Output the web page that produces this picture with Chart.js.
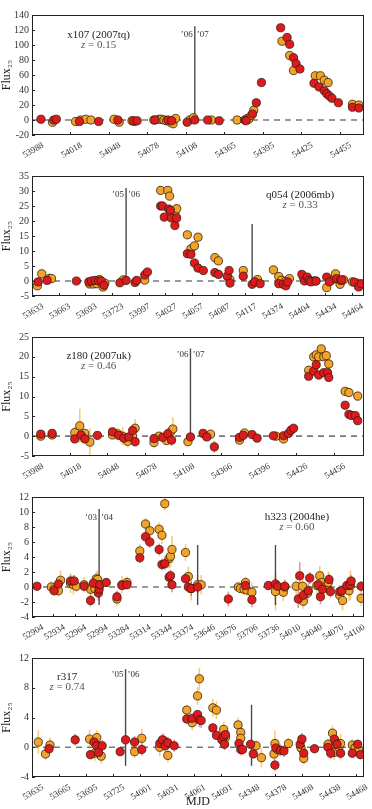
<!DOCTYPE html>
<html>
<head>
<meta charset="utf-8">
<script src="https://cdn.jsdelivr.net/npm/chart.js@4.4.1/dist/chart.umd.min.js"></script>
<style>
  html, body { margin: 0; padding: 0; background: #fff; }
  body { width: 372px; height: 809px; position: relative; overflow: hidden; }
  .panel { position: absolute; left: 0; width: 372px; }
</style>
</head>
<body>
<div class="panel" id="p1"><canvas id="c1"></canvas></div>
<div class="panel" id="p2"><canvas id="c2"></canvas></div>
<div class="panel" id="p3"><canvas id="c3"></canvas></div>
<div class="panel" id="p4"><canvas id="c4"></canvas></div>
<div class="panel" id="p5"><canvas id="c5"></canvas></div>
<script>
"use strict";

// x is "compressed" days from the left edge (season gaps removed), ticks every 30
// each point: [x, flux, error]

// ---- x107 (2007tq)
const X107_TICKS = ["53988", "54018", "54048", "54078", "54108", "54365", "54395", "54425", "54455"];
const X107_RED = [[7,1,1],[17,0,1],[19,1,1],[37,-2,1],[52,-2,1],[67,0,1],[79,-1,1],[82,-1,1],[96,0,1],[106,0,1],[109,-1,1],[121,-3,1],[127,0,1],[137,0,1],[146,-1,1],[166,0,1],[167,-1,1],[172,8,1],[175,23,1.5],[179,50,1.5],[194,123,2],[199,110,2],[201,101,2],[204,83,2],[206,75,2],[209,68,2],[220,49,1.5],[224,44,1.5],[228,39,1.5],[230,35,1.5],[232,32,1.5],[234,29,1.5],[239,23,1.5],[250,17,1.5],[255,16,1.5]];
const X107_ORANGE = [[16,-3,1],[34,-2,1],[38,0,1],[42,1,1],[46,0,1],[64,1,1],[68,-3,1],[78,-1,1],[80,-2,1],[95,0,1],[99,1,1],[101,1,1],[103,0,1],[105,-1,1],[108,-3,1],[110,-5,1],[112,2,1],[123,0,1],[126,3,1],[140,0,1],[160,0,1],[168,2,1],[169,1,1],[171,6,1],[173,13,1.5],[195,105,2],[201,86,2],[204,66,2],[221,59,1.5],[225,59,1.5],[228,53,1.5],[231,50,1.5],[250,21,1.5],[255,20,1.5]];
const X107_SEASONS = [[127, -2, 125, "’06", "’07", 114]];

// ---- q054 (2006mb)
const Q054_TICKS = ["53633", "53663", "53693", "53723", "53997", "54027", "54057", "54087", "54117", "54374", "54404", "54434", "54464"];
const Q054_RED = [[7,-0.3,0.5],[17,0.2,0.5],[50,0,0.4],[64,-0.3,0.4],[67,0,0.4],[71,0.2,0.4],[75,0,0.4],[78,0,0.4],[81,-1.4,0.5],[99,-0.6,0.4],[106,0.2,0.4],[116,-0.5,0.4],[118,0.2,0.4],[127,2,0.6],[130,3,0.6],[145,25,1],[147,25,1],[149,21.3,1.2],[154,24,1],[156,23.5,1],[157,21,1],[161,18.5,1],[163,21,1],[175,9.1,0.8],[179,8.9,0.8],[183,6,0.8],[187,4.3,0.8],[193,3.5,0.6],[206,2.8,0.6],[210,2.2,0.6],[220,1.6,0.8],[222,3.5,1.2],[223,-0.7,1.2],[238,1.6,0.8],[248,-1.1,0.5],[251,-0.3,0.5],[257,-0.9,0.5],[278,-0.9,0.6],[283,-1.1,0.6],[286,-1.6,0.6],[288,-0.3,0.6],[304,2.2,0.6],[307,0,0.6],[310,1.3,0.6],[312,0.2,0.6],[314,-0.3,0.6],[320,0,0.6],[332,1.3,0.6],[335,-0.3,0.6],[343,0.8,0.6],[348,0.2,0.6],[349,0.4,0.6],[363,-0.4,0.6],[368,-2,0.6],[371,-0.9,0.6]];
const Q054_ORANGE = [[6,-1.6,0.6],[11,2.4,1.5],[20,0.9,0.5],[22,0.8,0.5],[65,-1,0.5],[69,-1,0.5],[73,-0.9,0.5],[76,0.5,0.5],[80,-2,0.5],[82,-0.7,0.5],[103,0.4,0.4],[127,0.3,0.6],[145,30.2,1.2],[153,30.2,1],[155,28.3,1],[161,22.4,1.2],[163,24.1,1.5],[175,15.4,1],[179,10.7,1.2],[183,11.7,1.2],[187,14.6,1],[206,7.8,1],[210,6.7,1],[223,0.5,1.5],[238,3.5,1.2],[254,0.5,0.6],[272,3.7,1.2],[278,1.5,0.8],[281,0.2,0.6],[286,0,0.6],[290,0.8,0.6],[306,1.1,0.6],[317,0,0.6],[319,0,0.6],[332,-2.2,1.2],[337,0.2,0.6],[342,2.4,0.8],[346,0.2,0.6],[347,-1.1,0.6],[351,0.4,0.6],[361,-0.3,0.6],[366,-0.7,0.6]];
const Q054_SEASONS = [[106, -0.3, 31, "’05", "’06", 28.8], [248, -0.3, 19, "", "", 0]];

// ---- z180 (2007uk)
const Z180_TICKS = ["53988", "54018", "54048", "54078", "54108", "54366", "54396", "54426", "54456"];
const Z180_RED = [[7,0.5,0.4],[16,0.7,0.4],[34,-0.7,1],[39,0.3,1.2],[42,-0.7,1],[52,0.2,0.5],[64,1.1,0.6],[69,0.2,0.6],[73,-0.5,0.8],[77,-0.2,0.8],[80,1.4,0.8],[82,-1.4,1.2],[97,-0.6,0.6],[104,-0.3,0.6],[108,0.6,0.8],[111,-1,1.5],[126,-0.2,0.6],[136,0.7,0.6],[139,-0.2,0.6],[145,-2.7,1.5],[165,-0.3,0.6],[168,0.2,0.6],[175,0.4,0.6],[179,-0.5,0.6],[192,0.1,0.6],[200,0.1,0.6],[204,0.7,0.6],[206,1.5,0.6],[208,2,0.6],[220,15.1,0.8],[224,16.4,0.8],[226,18,0.8],[228,15.4,0.8],[232,16,0.8],[235,16,0.8],[236,14.8,0.8],[249,7.8,0.8],[252,5.5,0.8],[254,5.2,0.8],[257,5.2,0.8],[259,3.9,0.8]];
const Z180_ORANGE = [[7,0,0.5],[16,0.3,0.5],[34,0.9,1.5],[38,2.6,4.3],[42,0.7,1],[46,-1.5,3.5],[64,0.3,1],[68,0.6,1.5],[72,0,2.3],[76,-1.3,1.5],[80,0,1],[82,2,2.3],[97,-1.6,1.5],[101,0,0.8],[107,-1.1,1],[110,1,1.5],[112,1.8,3],[124,-1.4,0.8],[142,0.5,1],[165,-1,1],[169,0.8,0.8],[194,0,0.8],[200,-0.7,1.2],[220,16.6,1.2],[224,20,1],[226,20.5,1],[228,20,1],[230,22,1],[232,20,1],[234,20.3,1],[236,18.2,1.2],[249,11.3,1],[252,11,1],[259,10.1,1.2]];
const Z180_SEASONS = [[126, -0.5, 22.1, "’06", "’07", 20.5]];

// ---- h323 (2004he)
const H323_TICKS = ["52904", "52934", "52964", "52994", "53284", "53314", "53344", "53374", "53646", "53676", "53706", "53736", "54010", "54040", "54070", "54100"];
const H323_RED = [[7,0.1,0.5],[31,-0.5,0.6],[37,0.4,0.7],[54,0.8,0.8],[59,0.8,0.8],[73,0.1,0.6],[82,-1.8,0.8],[86,0.5,0.8],[93,-0.8,1],[94,-0.3,1],[95,0.3,1],[104,0.6,0.6],[119,-1.3,0.8],[126,0.2,0.6],[133,0.3,0.6],[151,3.9,0.7],[159,6.7,0.8],[165,6,0.8],[178,5,0.8],[182,3,0.8],[186,3.1,0.8],[192,1.3,0.8],[194,1.5,0.8],[196,0.3,1],[215,1.1,0.8],[219,0,0.8],[223,-0.2,1],[232,0,0.8],[275,-1.6,1],[299,0.2,0.7],[308,-1.7,1],[331,0.2,0.6],[341,0.4,0.8],[344,0.1,0.8],[354,0.1,0.8],[373,-1.6,1.2],[375,1.5,1.8],[380,-1.1,1],[387,-0.5,1],[389,1.2,0.8],[401,0.3,0.6],[404,-1.3,1],[407,-0.3,0.8],[416,1,0.8],[418,-0.6,0.8],[431,-0.6,0.8],[434,-0.5,0.8],[441,0.2,0.8],[445,0.3,0.8],[447,0.8,0.8],[461,0.1,0.7]];
const H323_ORANGE = [[27,0,0.8],[31,-0.3,0.8],[37,-0.5,0.8],[40,0.9,1.3],[54,0.5,1.3],[58,0.3,1.3],[62,0.1,0.8],[73,0.3,1],[82,-0.3,1.3],[88,-0.2,1],[90,1.1,1],[92,1,1.2],[93,0.3,1],[119,-1.6,1],[126,0.3,1.2],[133,0.6,0.8],[151,4.8,0.9],[159,8.4,0.8],[165,7.5,1],[178,7.7,0.9],[182,6.9,1.2],[186,11.1,0.9],[192,3.8,1.3],[194,4.1,1.5],[196,5,1.8],[215,4.6,1.1],[219,1.4,1.3],[223,-0.2,1.6],[232,0.3,1.3],[237,0.3,1.3],[289,0,0.6],[292,-0.2,0.6],[297,-0.3,0.8],[299,0.6,0.8],[301,-0.4,0.8],[308,-0.7,1.3],[341,-0.6,2.5],[352,-0.7,1.2],[354,0,1],[370,0.1,1.3],[379,0.1,1],[380,-1.9,1],[386,-0.8,1],[399,0.2,1.3],[403,1.5,1.3],[406,0.6,1.5],[413,0.2,1.3],[415,0.6,1.5],[431,-1.1,1.3],[435,-1.8,1.3],[444,-0.5,1.3],[446,0.2,2],[461,-1.5,1]];
const H323_SEASONS = [[94, -2.4, 10.4, "’03", "’04", 9.3], [232, -2.4, 5.6, "", "", 0], [341, -2.4, 5.6, "", "", 0]];

// ---- r317
const R317_TICKS = ["53635", "53665", "53695", "53725", "54001", "54031", "54061", "54091", "54348", "54378", "54408", "54438", "54468"];
const R317_RED = [[19,-0.2,0.7],[48,1,0.8],[65,-1,0.6],[69,0.7,0.8],[72,0.2,1],[74,-0.7,0.8],[78,0.2,0.8],[98,-0.6,0.5],[104,1,0.7],[114,0.7,0.8],[122,-0.3,0.8],[142,0.5,0.8],[145,1,0.8],[148,0.2,0.8],[151,0.6,0.8],[158,0.2,0.8],[172,3.8,0.6],[178,3.9,0.6],[184,4.4,0.6],[186,3.7,1],[188,3.6,1],[201,2.6,0.6],[205,1.6,0.6],[211,1,0.8],[213,1.4,0.8],[214,0.4,0.8],[215,1.7,0.8],[230,0.5,1],[232,-0.3,0.8],[234,-0.3,0.8],[243,0.4,0.5],[246,-0.9,0.6],[270,-2.4,0.8],[271,-0.1,0.8],[276,-0.4,0.8],[280,-0.5,0.8],[298,0.4,0.8],[300,1.1,0.8],[302,-0.8,0.8],[314,-0.2,0.6],[329,0,0.8],[332,-0.8,0.8],[336,1.1,0.8],[339,0.4,0.8],[343,-0.8,0.8],[356,-0.8,0.6],[362,0.4,0.6],[365,-1,0.6]];
const R317_ORANGE = [[7,0.7,1.6],[15,-0.9,0.8],[20,0.3,1],[64,1.1,1.3],[70,-0.8,1],[72,1.3,1],[74,0.2,1],[77,-1.2,1],[114,-0.6,0.8],[122,1.2,1.3],[142,0,1.2],[146,0.9,1],[151,-1.1,1],[172,5,0.7],[178,3.3,1],[184,6.9,1.2],[186,9.2,1.5],[201,5.3,1.2],[205,5,1.2],[213,2.4,1],[215,1.3,1],[229,3,1],[232,2,1],[232,1.2,1],[249,0.2,0.7],[255,-1.4,1.3],[269,-0.9,1],[270,0.5,1.8],[273,-0.3,1],[285,0.5,0.8],[299,-0.1,1.5],[302,-1.5,0.8],[329,0.4,0.8],[334,1.9,1],[336,-0.7,1],[338,0.7,1],[341,0,1],[343,0.5,1.3],[356,0.3,0.8],[359,-0.1,0.8],[363,-0.4,0.8]];
const R317_SEASONS = [[104, -2.5, 10.5, "’05", "’06", 9.8], [244, -2.5, 5.7, "", "", 0]];

const SERIF = "'Liberation Serif', 'DejaVu Serif', serif";
const RED = "#dc1a1f";
const ORANGE = "#f0a52a";
const EDGE = "#3a1c05";
const RED_ERR = "rgba(232,70,70,0.6)";
const ORANGE_ERR = "rgba(246,182,50,0.7)";

const PANELS = [
  { canvas: "c1", div: "p1", top: 6, height: 161, plotH: 123, xMax: 259, yMin: -20, yMax: 140, yStep: 20,
    ticks: X107_TICKS, red: X107_RED, orange: X107_ORANGE, seasons: X107_SEASONS,
    name: "x107 (2007tq)", z: "0.15", nameAt: [52, 113] },
  { canvas: "c2", div: "p2", top: 167, height: 161, plotH: 123, xMax: 374, yMin: -5, yMax: 35, yStep: 5,
    ticks: Q054_TICKS, red: Q054_RED, orange: Q054_ORANGE, seasons: Q054_SEASONS,
    name: "q054 (2006mb)", z: "0.33", nameAt: [302, 28.5] },
  { canvas: "c3", div: "p3", top: 328, height: 161, plotH: 122, xMax: 264, yMin: -5, yMax: 25, yStep: 5,
    ticks: Z180_TICKS, red: Z180_RED, orange: Z180_ORANGE, seasons: Z180_SEASONS,
    name: "z180 (2007uk)", z: "0.46", nameAt: [53, 20.1] },
  { canvas: "c4", div: "p4", top: 488, height: 161, plotH: 123, xMax: 465, yMin: -4, yMax: 12, yStep: 2,
    ticks: H323_TICKS, red: H323_RED, orange: H323_ORANGE, seasons: H323_SEASONS,
    name: "h323 (2004he)", z: "0.60", nameAt: [371, 9.3] },
  { canvas: "c5", div: "p5", top: 649, height: 160, plotH: 122, xMax: 369, yMin: -4, yMax: 12, yStep: 2,
    ticks: R317_TICKS, red: R317_RED, orange: R317_ORANGE, seasons: R317_SEASONS,
    name: "r317", z: "0.74", nameAt: [39, 9.4], last: true },
];

const errorBars = {
  id: "errorBars",
  beforeDatasetsDraw(chart) {
    const { ctx } = chart;
    const ys = chart.scales.y;
    chart.data.datasets.forEach((ds, i) => {
      if (!ds.errs) return;
      const meta = chart.getDatasetMeta(i);
      ctx.save();
      ctx.strokeStyle = ds.errColor;
      ctx.lineWidth = 1.6;
      meta.data.forEach((pt, j) => {
        const d = ds.data[j];
        const e = ds.errs[j];
        ctx.beginPath();
        ctx.moveTo(pt.x, ys.getPixelForValue(d.y - e));
        ctx.lineTo(pt.x, ys.getPixelForValue(d.y + e));
        ctx.stroke();
      });
      ctx.restore();
    });
  },
};

const frame = {
  id: "frame",
  afterDraw(chart) {
    const { ctx, chartArea: a } = chart;
    ctx.save();
    ctx.strokeStyle = "#222";
    ctx.lineWidth = 1;
    ctx.strokeRect(a.left + 0.5, a.top + 0.5, a.right - a.left - 1, a.bottom - a.top - 1);
    ctx.beginPath();
    for (const t of chart.scales.x.ticks) {
      const px = Math.round(chart.scales.x.getPixelForValue(t.value)) + 0.5;
      ctx.moveTo(px, a.bottom);
      ctx.lineTo(px, a.bottom - 3);
    }
    for (const t of chart.scales.y.ticks) {
      const py = Math.round(chart.scales.y.getPixelForValue(t.value)) + 0.5;
      ctx.moveTo(a.left, py);
      ctx.lineTo(a.left + 3, py);
    }
    ctx.stroke();
    ctx.restore();
  },
};

const notes = {
  id: "notes",
  afterDatasetsDraw(chart, args, opts) {
    const { ctx } = chart;
    const xs = chart.scales.x, ys = chart.scales.y;
    ctx.save();
    ctx.fillStyle = "#333";
    ctx.font = `9px ${SERIF}`;
    ctx.textBaseline = "middle";
    for (const s of opts.seasons) {
      if (!s[3]) continue;
      const px = xs.getPixelForValue(s[0]);
      const py = ys.getPixelForValue(s[5]);
      ctx.textAlign = "right";
      ctx.fillText(s[3], px - 2, py);
      ctx.textAlign = "left";
      ctx.fillText(s[4], px + 2, py);
    }
    const cx = xs.getPixelForValue(opts.nameAt[0]);
    const cy = ys.getPixelForValue(opts.nameAt[1]);
    ctx.textAlign = "center";
    ctx.fillStyle = "#222";
    ctx.font = `11px ${SERIF}`;
    ctx.fillText(opts.name, cx, cy);
    // "z = 0.xx" with italic z
    ctx.fillStyle = "#555";
    ctx.font = `italic 11px ${SERIF}`;
    const zw = ctx.measureText("z").width;
    ctx.font = `11px ${SERIF}`;
    const rest = " = " + opts.z;
    const rw = ctx.measureText(rest).width;
    const x0 = cx - (zw + rw) / 2;
    ctx.textAlign = "left";
    ctx.font = `italic 11px ${SERIF}`;
    ctx.fillText("z", x0, cy + 10);
    ctx.font = `11px ${SERIF}`;
    ctx.fillText(rest, x0 + zw, cy + 10);
    ctx.restore();
  },
};

function points(rows) {
  return rows.map((r) => ({ x: r[0], y: r[1] }));
}

function buildPanel(p) {
  const div = document.getElementById(p.div);
  div.style.top = p.top + "px";
  div.style.height = p.height + "px";
  const xAxisH = p.height - 6 - p.plotH;

  const datasets = [];
  datasets.push({
    data: [{ x: 0, y: 0 }, { x: p.xMax, y: 0 }],
    showLine: true, borderColor: "#7a7a7a", borderWidth: 1.6, borderDash: [6, 5],
    pointRadius: 0, order: 20,
  });
  for (const s of p.seasons) {
    datasets.push({
      data: [{ x: s[0], y: s[1] }, { x: s[0], y: s[2] }],
      showLine: true, borderColor: "#4a4a4a", borderWidth: 1.4,
      pointRadius: 0, order: 10,
    });
  }
  datasets.push({
    data: points(p.orange), errs: p.orange.map((r) => r[2]), errColor: ORANGE_ERR,
    backgroundColor: ORANGE, borderColor: EDGE, borderWidth: 0.8, pointRadius: 4.1, order: 2,
  });
  datasets.push({
    data: points(p.red), errs: p.red.map((r) => r[2]), errColor: RED_ERR,
    backgroundColor: RED, borderColor: EDGE, borderWidth: 0.8, pointRadius: 4.1, order: 1,
  });

  new Chart(document.getElementById(p.canvas), {
    type: "scatter",
    data: { datasets },
    plugins: [errorBars, frame, notes],
    options: {
      responsive: true,
      maintainAspectRatio: false,
      animation: false,
      layout: { padding: { top: 6, right: 8, left: 0, bottom: 0 } },
      plugins: {
        legend: { display: false },
        tooltip: { enabled: false },
        notes: { seasons: p.seasons, name: p.name, z: p.z, nameAt: p.nameAt },
      },
      scales: {
        x: {
          type: "linear",
          min: 0,
          max: p.xMax,
          grid: { display: false, drawTicks: false },
          border: { display: false },
          afterBuildTicks: (scale) => {
            scale.ticks = p.ticks.map((_, i) => ({ value: i * 30 }));
          },
          afterFit: (scale) => { scale.height = xAxisH; },
          ticks: {
            autoSkip: false,
            minRotation: 30,
            maxRotation: 30,
            padding: 5,
            labelOffset: 11,
            color: "#333",
            font: { family: SERIF, size: 9 },
            callback: (v) => p.ticks[Math.round(v / 30)],
          },
          title: p.last
            ? { display: true, text: "MJD", color: "#222", font: { family: SERIF, size: 12 }, padding: { top: 0, bottom: 0 } }
            : { display: false },
        },
        y: {
          min: p.yMin,
          max: p.yMax,
          grid: { display: false, drawTicks: false },
          border: { display: false },
          afterFit: (scale) => { scale.width = 32; },
          ticks: {
            stepSize: p.yStep,
            padding: 3,
            color: "#333",
            font: { family: SERIF, size: 10 },
          },
          title: {
            display: true,
            text: "Flux₂₅",
            color: "#222",
            font: { family: SERIF, size: 12 },
            padding: { top: 0, bottom: 1 },
          },
        },
      },
    },
  });
}

PANELS.forEach(buildPanel);
</script>
</body>
</html>
